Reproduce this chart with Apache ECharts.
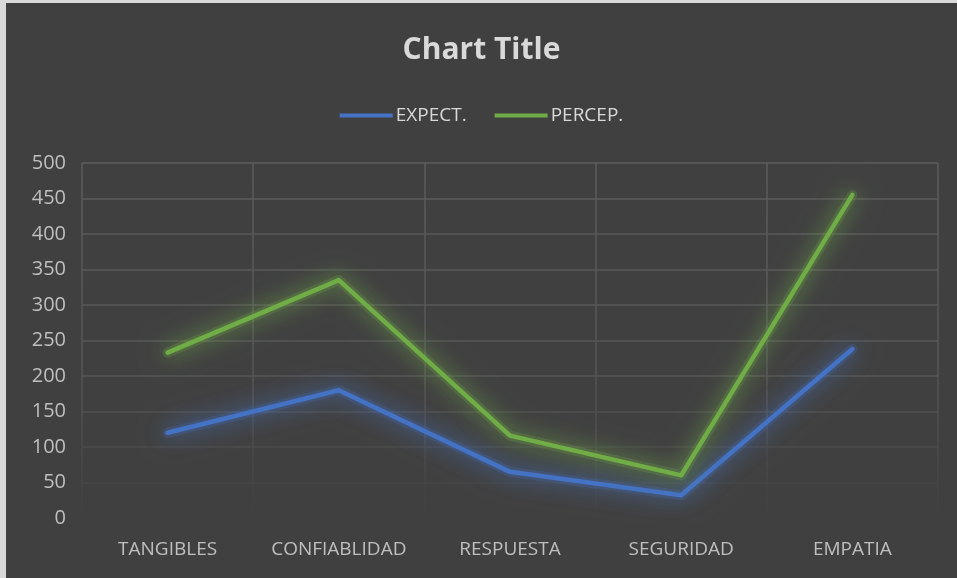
<!DOCTYPE html>
<html>
<head>
<meta charset="utf-8">
<script src="https://cdn.jsdelivr.net/npm/echarts@6/dist/echarts.min.js"></script>
<style>
  html, body { margin: 0; padding: 0; background: #d9d9d9; }
  #chart { position: absolute; left: 6px; top: 3px; width: 951px; height: 575px; background: #404040; }
</style>
</head>
<body>
<div id="chart"></div>
<script>
// datos
const categories = ['TANGIBLES', 'CONFIABLIDAD', 'RESPUESTA', 'SEGURIDAD', 'EMPATIA'];
const expect = [120, 180, 65, 32, 238];
const percep = [233, 335, 116, 60, 455];
const yTicks = { min: 0, max: 500, interval: 50 };

const font = '"Open Sans", sans-serif';
const myChart = echarts.init(document.getElementById('chart'));

// las lineas de la cuadricula se desvanecen hacia abajo, como en Excel
function gridColor() {
  return new echarts.graphic.LinearGradient(0, 157, 0, 515, [
    { offset: 0, color: '#5c5c5c' },
    { offset: 0.6, color: '#555555' },
    { offset: 1, color: '#404040' }
  ], true);
}

function glowLine(name, data, color) {
  return {
    name: name,
    type: 'line',
    data: data,
    showSymbol: false,
    z: 3,
    lineStyle: {
      color: color,
      width: 4.5,
      cap: 'round',
      join: 'round',
      shadowColor: color,
      shadowBlur: 20
    },
    itemStyle: { color: color }
  };
}

// halo ancho debajo de cada linea (efecto "glow")
function halo(data, color) {
  return {
    name: 'halo',
    type: 'line',
    data: data,
    showSymbol: false,
    silent: true,
    z: 1,
    lineStyle: {
      color: color,
      width: 10,
      opacity: 0.22,
      cap: 'round',
      join: 'round',
      shadowColor: color,
      shadowBlur: 24
    }
  };
}

myChart.setOption({
  backgroundColor: '#404040',
  animation: false,
  title: {
    text: 'Chart Title',
    left: 'center',
    top: 27,
    textStyle: { color: '#d9d9d9', fontFamily: font, fontSize: 30, fontWeight: 'bold' }
  },
  legend: {
    top: 98,
    left: 'center',
    itemWidth: 53,
    itemHeight: 4,
    itemGap: 28,
    icon: 'rect',
    textStyle: { color: '#d9d9d9', fontFamily: font, fontSize: 19, padding: [0, 0, 0, -2] },
    data: ['EXPECT.', 'PERCEP.']
  },
  grid: { left: 76, right: 19, top: 160, bottom: 60 },
  xAxis: {
    type: 'category',
    data: categories,
    boundaryGap: true,
    axisLine: { show: false },
    axisTick: { show: false },
    axisLabel: { color: '#bfbfbf', fontFamily: font, fontSize: 19, margin: 22, interval: 0 },
    splitLine: { show: true, interval: 0, lineStyle: { color: gridColor(), width: 1.5 } }
  },
  yAxis: {
    type: 'value',
    min: yTicks.min,
    max: yTicks.max,
    interval: yTicks.interval,
    axisLine: { show: false },
    axisTick: { show: false },
    axisLabel: { color: '#bfbfbf', fontFamily: font, fontSize: 20, margin: 16 },
    splitLine: { lineStyle: { color: gridColor(), width: 1.5 } }
  },
  series: [
    halo(expect, '#4472c4'),
    halo(percep, '#70ad47'),
    glowLine('EXPECT.', expect, '#4472c4'),
    glowLine('PERCEP.', percep, '#70ad47')
  ]
});
</script>
</body>
</html>
